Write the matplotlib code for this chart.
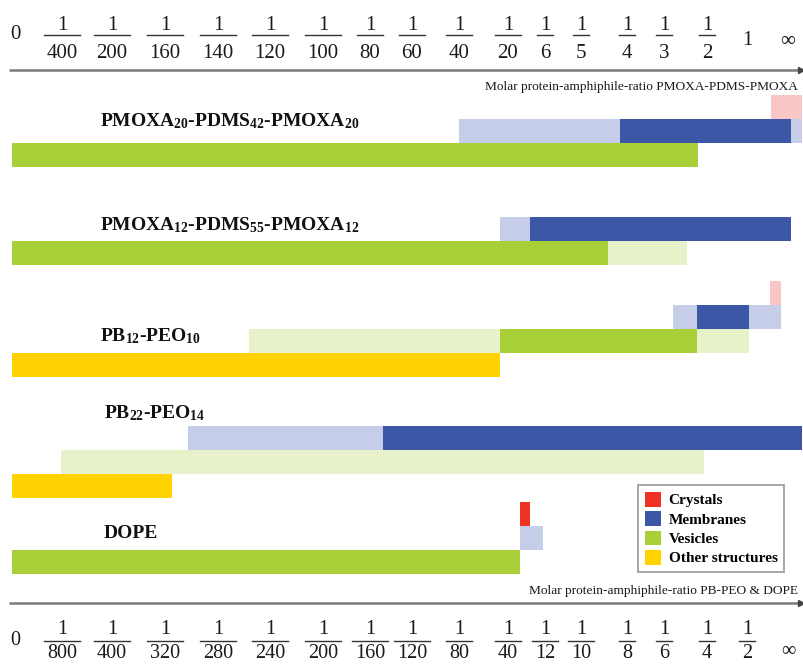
import matplotlib
matplotlib.use("Agg")
import matplotlib.pyplot as plt
from matplotlib.patches import Patch

plt.rcParams["font.family"] = ["Liberation Serif", "DejaVu Serif"]
plt.rcParams["mathtext.fontset"] = "custom"
plt.rcParams["mathtext.rm"] = "Liberation Serif:bold"
plt.rcParams["mathtext.it"] = "Liberation Serif:bold"
plt.rcParams["mathtext.bf"] = "Liberation Serif:bold"

# ---- data -------------------------------------------------------------
# positions of the ratio marks along the (non-linear) ratio axis
tick_pos = [15, 62, 112, 165, 218, 270, 323, 370, 412, 459, 508, 545, 581, 627, 664, 707, 747, 788]
top_ticks = ["0", "1/400", "1/200", "1/160", "1/140", "1/120", "1/100", "1/80", "1/60",
             "1/40", "1/20", "1/6", "1/5", "1/4", "1/3", "1/2", "1", "\u221e"]
bottom_ticks = ["0", "1/800", "1/400", "1/320", "1/280", "1/240", "1/200", "1/160", "1/120",
                "1/80", "1/40", "1/12", "1/10", "1/8", "1/6", "1/4", "1/2", "\u221e"]

polymers = [
    "PMOXA$_{20}$-PDMS$_{42}$-PMOXA$_{20}$",
    "PMOXA$_{12}$-PDMS$_{55}$-PMOXA$_{12}$",
    "PB$_{12}$-PEO$_{10}$",
    "PB$_{22}$-PEO$_{14}$",
    "DOPE",
]

# ratio ranges (start, end, certain?) per structure type and polymer
crystal_spans = [
    [(771, 802, False)],
    [],
    [(770, 781, False)],
    [],
    [(520, 530, True)],
]
membrane_spans = [
    [(459, 620, False), (620, 791, True), (791, 802, False)],
    [(500, 530, False), (530, 791, True)],
    [(673, 697, False), (697, 749, True), (749, 781, False)],
    [(188, 383, False), (383, 802, True)],
    [(520, 543, False)],
]
vesicle_spans = [
    [(12, 698, True)],
    [(12, 608, True), (608, 687, False)],
    [(249, 500, False), (500, 697, True), (697, 749, False)],
    [(61, 704, False)],
    [(12, 520, True)],
]
other_spans = [
    [],
    [],
    [(12, 500, True)],
    [(12, 172, True)],
    [],
]

structures = ["Crystals", "Membranes", "Vesicles", "Other structures"]

# ---- styling / layout -------------------------------------------------
full_col = {"Crystals": "#EE3224", "Membranes": "#3C57A6",
            "Vesicles": "#A8CF38", "Other structures": "#FFD200"}
faint_col = {"Crystals": "#F8C6C4", "Membranes": "#C6CDE8",
             "Vesicles": "#E8F2CA", "Other structures": "#FFF0A0"}
group_top = [95, 193, 281, 402, 502]   # top of the crystal lane of each group
lane_h = 24
label_xy = [(100, 121), (100, 225), (100, 336), (104, 413), (104, 533)]

fig = plt.figure(figsize=(8.04, 6.64), dpi=100)
ax = fig.add_axes([0, 0, 1, 1])
ax.set_xlim(0, 804)
ax.set_ylim(664, 0)
ax.axis("off")

all_spans = [crystal_spans, membrane_spans, vesicle_spans, other_spans]
for g, name in enumerate(polymers):
    for lane, (struct, spans) in enumerate(zip(structures, all_spans)):
        y0 = group_top[g] + lane * lane_h
        for (a, b, certain) in spans[g]:
            ax.barh(y0 + lane_h / 2, b - a, left=a, height=lane_h,
                    color=full_col[struct] if certain else faint_col[struct],
                    edgecolor="none", zorder=2)
    lx, ly = label_xy[g]
    ax.text(lx, ly, name, fontsize=14, fontweight="bold", color="#111111",
            ha="left", va="center", zorder=3)

# ---- ratio axes -------------------------------------------------------
axis_col = "#7a7a7a"
for yline in (70, 603):
    ax.plot([9, 801], [yline, yline], color=axis_col, lw=1.8, solid_capstyle="butt", zorder=1)
    ax.plot([801], [yline], marker=">", ms=5, color="#444444", zorder=1)

txt_col = "#1a1a1a"
fs = 15


def draw_scale(labels, num_base, bar_y, den_base, zero_base, one_base, inf_base, size):
    for x, lab in zip(tick_pos, labels):
        if "/" in lab:
            num, den = lab.split("/")
            ax.text(x, num_base, num, fontsize=size, ha="center", va="baseline", color=txt_col)
            ax.text(x, den_base, den, fontsize=size, ha="center", va="baseline", color=txt_col)
            half = (10.3 * len(den) + 5) / 2
            ax.plot([x - half, x + half], [bar_y, bar_y], color="#333333", lw=1.0)
        elif lab == "\u221e":
            ax.text(x, inf_base, lab, fontsize=size, ha="center", va="baseline", color=txt_col)
        elif lab == "0":
            ax.text(x, zero_base, lab, fontsize=size, ha="center", va="baseline", color=txt_col)
        else:
            ax.text(x, one_base, lab, fontsize=size, ha="center", va="baseline", color=txt_col)


draw_scale(top_ticks, 30, 35, 58, 39, 45, 46, fs)
draw_scale(bottom_ticks, 634, 641, 658, 645, 651, 656, 14.5)

ax.text(798, 87, "Molar protein-amphiphile-ratio PMOXA-PDMS-PMOXA", fontsize=9.6,
        ha="right", va="center", color=txt_col)
ax.text(798, 591, "Molar protein-amphiphile-ratio PB-PEO & DOPE", fontsize=9.6,
        ha="right", va="center", color=txt_col)

# ---- legend -----------------------------------------------------------
handles = [Patch(facecolor=full_col[s], edgecolor="none", label=s) for s in structures]
leg = ax.legend(handles=handles, loc="upper left",
                bbox_to_anchor=(638 / 804, 1 - 485 / 664), bbox_transform=fig.transFigure,
                borderaxespad=0, frameon=True, fancybox=False, edgecolor="#888888",
                prop={"family": "Liberation Serif", "weight": "bold", "size": 11},
                handlelength=1.05, handleheight=1.1, handletextpad=0.5,
                labelspacing=0.25, borderpad=0.45)
leg.get_frame().set_linewidth(1.3)

fig.savefig("out.png", dpi=100, facecolor="white")
